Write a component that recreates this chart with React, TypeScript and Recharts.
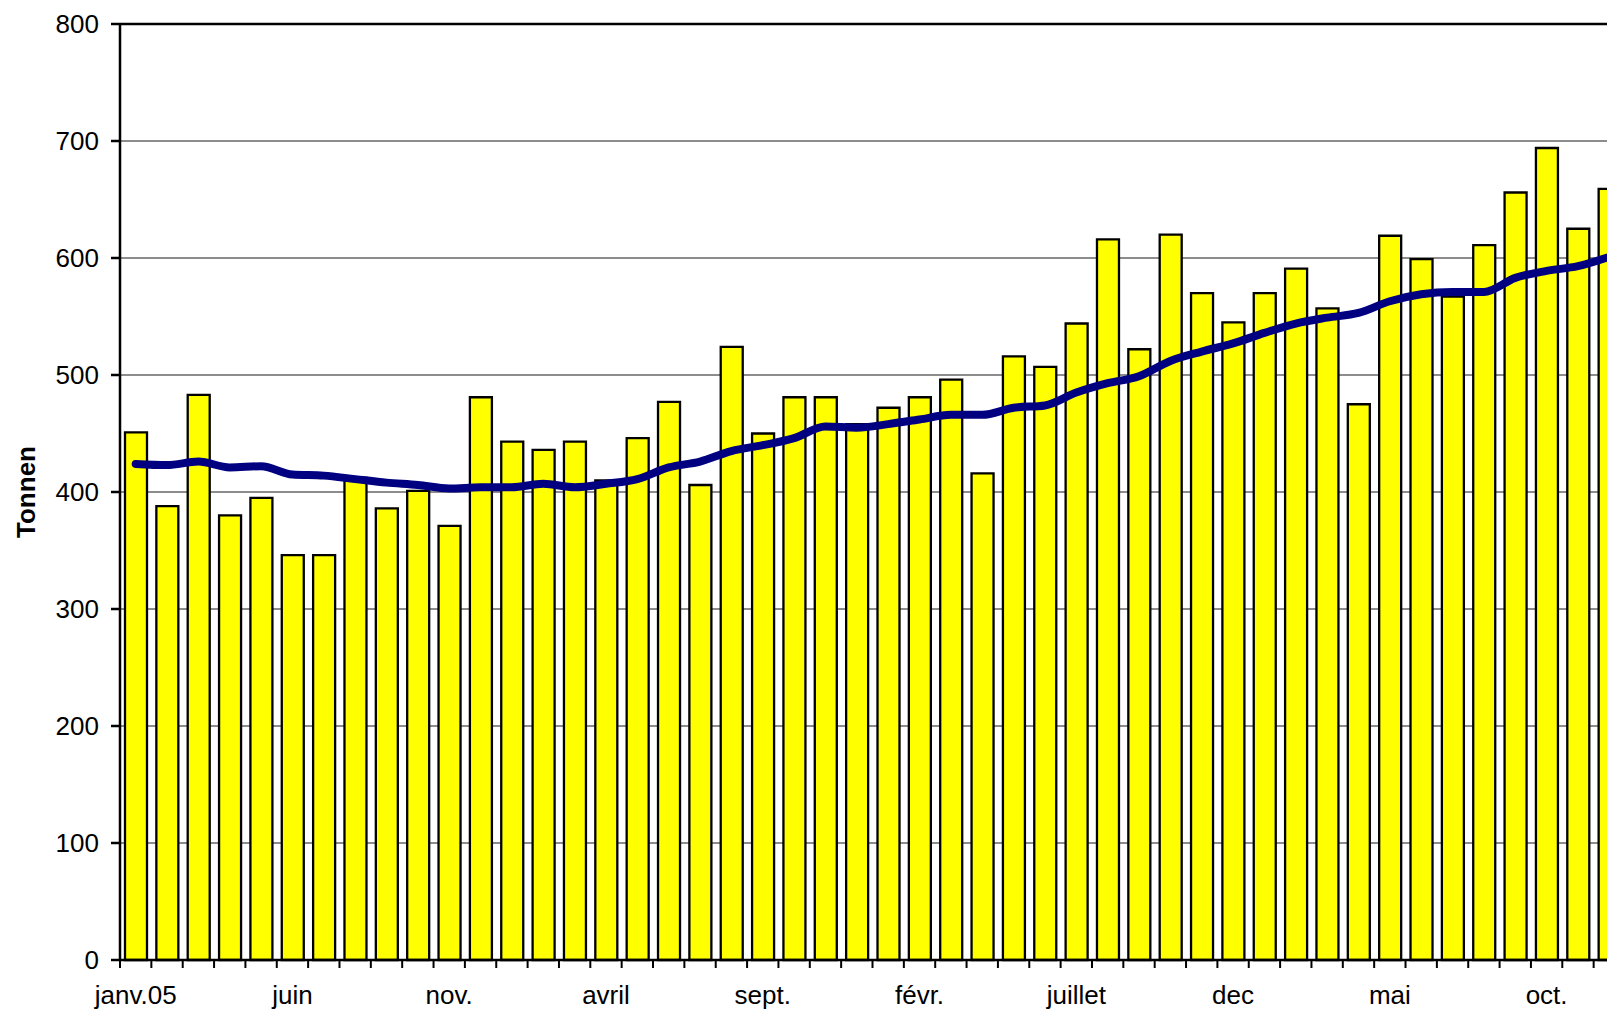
import React from 'react';
import { ComposedChart, Bar, Line, XAxis, YAxis, CartesianGrid, ReferenceLine } from 'recharts';

const months = [
  'janv.05', 'févr.', 'mars', 'avril', 'mai', 'juin', 'juillet', 'août', 'sept.', 'oct.', 'nov.', 'dec',
  'janv.06', 'févr.', 'mars', 'avril', 'mai', 'juin', 'juillet', 'août', 'sept.', 'oct.', 'nov.', 'dec',
  'janv.07', 'févr.', 'mars', 'avril', 'mai', 'juin', 'juillet', 'août', 'sept.', 'oct.', 'nov.', 'dec',
  'janv.08', 'févr.', 'mars', 'avril', 'mai', 'juin', 'juillet', 'août', 'sept.', 'oct.', 'nov.', 'dec',
];

const tonnage = [
  451, 388, 483, 380, 395, 346, 346, 412, 386, 401, 371, 481,
  443, 436, 443, 410, 446, 477, 406, 524, 450, 481, 481, 458,
  472, 481, 496, 416, 516, 507, 544, 616, 522, 620, 570, 545,
  570, 591, 557, 475, 619, 599, 567, 611, 656, 694, 625, 659,
];

const movingAverage = [
  424, 423, 426, 421, 422, 415, 414, 411, 408, 406, 403, 404,
  404, 407, 404, 407, 411, 421, 426, 435, 440, 446, 456, 455,
  458, 462, 466, 466, 472, 474, 485, 493, 499, 512, 520, 527,
  536, 544, 549, 553, 563, 569, 571, 571, 583, 589, 593, 601,
];

const yTicks = [0, 100, 200, 300, 400, 500, 600, 700, 800];

const data = months.map((m, i) => ({ month: m, tonnage: tonnage[i], avg: movingAverage[i] }));

const FONT = '"Liberation Sans", Arial, Helvetica, sans-serif';
const X_TICK_SIZE = 8;
const LABEL_EVERY = 5;

function MonthTick(props: any) {
  const { x, y, payload, index } = props;
  const axisY = y - X_TICK_SIZE;
  const half = payload && typeof payload.offset === 'number' ? payload.offset : 0;
  const bx = x - half;
  return (
    <g>
      <line x1={bx} x2={bx} y1={axisY} y2={axisY + X_TICK_SIZE} stroke="#000" strokeWidth={2} />
      {index === data.length - 1 && (
        <line x1={x + half} x2={x + half} y1={axisY} y2={axisY + X_TICK_SIZE} stroke="#000" strokeWidth={2} />
      )}
      {index % LABEL_EVERY === 0 && (
        <text x={x} y={axisY + 44} textAnchor="middle" fontSize={26} fill="#000" fontFamily={FONT}>
          {payload.value}
        </text>
      )}
    </g>
  );
}

function AxisTitle(props: any) {
  const vb = props.viewBox || {};
  const cx = (vb.x || 0) + 26;
  const cy = (vb.y || 0) + (vb.height || 0) / 2;
  return (
    <text
      x={cx}
      y={cy}
      transform={`rotate(-90 ${cx} ${cy})`}
      textAnchor="middle"
      dominantBaseline="central"
      fontSize={26}
      fontWeight="bold"
      fill="#000"
      fontFamily={FONT}
    >
      Tonnen
    </text>
  );
}

export default function App() {
  return (
    <div
      style={{
        position: 'fixed',
        left: 0,
        top: 0,
        width: 1607,
        height: 1014,
        overflow: 'hidden',
        background: '#fff',
      }}
    >
      <ComposedChart
        width={1628}
        height={1014}
        data={data}
        margin={{ top: 24, right: 3, left: 0, bottom: 0 }}
      >
        <CartesianGrid vertical={false} stroke="#1a1a1a" strokeWidth={1} />
        <XAxis
          dataKey="month"
          interval={0}
          height={54}
          tickSize={X_TICK_SIZE}
          tickMargin={0}
          tickLine={false}
          axisLine={{ stroke: '#000', strokeWidth: 2.5 }}
          tick={<MonthTick />}
        />
        <YAxis
          width={120}
          domain={[0, 800]}
          ticks={yTicks}
          interval={0}
          tickSize={9}
          tickMargin={12}
          axisLine={{ stroke: '#000', strokeWidth: 2.5 }}
          tickLine={{ stroke: '#000', strokeWidth: 2.5 }}
          tick={{ fontSize: 26, fill: '#000', fontFamily: FONT }}
          label={{ content: <AxisTitle /> }}
        />
        <ReferenceLine y={800} stroke="#000" strokeWidth={2.5} ifOverflow="visible" />
        <Bar dataKey="tonnage" barSize={22} fill="#FFFF00" stroke="#000" strokeWidth={2.3} isAnimationActive={false} />
        <Line
          type="monotone"
          dataKey="avg"
          stroke="#000080"
          strokeWidth={8}
          strokeLinecap="round"
          dot={false}
          activeDot={false}
          isAnimationActive={false}
        />
      </ComposedChart>
    </div>
  );
}
